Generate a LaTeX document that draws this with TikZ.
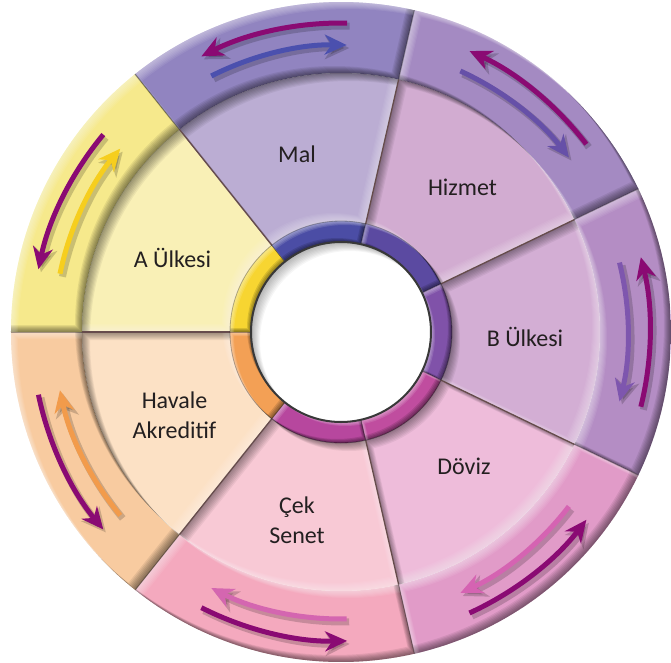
\documentclass[tikz,border=0pt]{standalone}
\usepackage{fontspec}
\setmainfont{Carlito}
\usetikzlibrary{arrows.meta}
\definecolor{txt}{HTML}{231F20}
\definecolor{arrp}{HTML}{8A0A73}
\definecolor{oA}{HTML}{F6E98C}\definecolor{iA}{HTML}{F9F0B6}\definecolor{rA}{HTML}{F7D531}\definecolor{aA}{HTML}{F6CE1E}
\definecolor{oM}{HTML}{9184C0}\definecolor{iM}{HTML}{BBADD3}\definecolor{rM}{HTML}{4B4DA5}\definecolor{aM}{HTML}{4B50AE}
\definecolor{oH}{HTML}{A48AC2}\definecolor{iH}{HTML}{D2ACD1}\definecolor{rH}{HTML}{5B4AA1}\definecolor{aH}{HTML}{6650A8}
\definecolor{oB}{HTML}{B48DC4}\definecolor{iB}{HTML}{D3AED4}\definecolor{rB}{HTML}{8052A9}\definecolor{aB}{HTML}{7E56AE}
\definecolor{oD}{HTML}{E19BC8}\definecolor{iD}{HTML}{EEBCDA}\definecolor{rD}{HTML}{C04D9F}\definecolor{aD}{HTML}{D563B2}
\definecolor{oC}{HTML}{F4A9BE}\definecolor{iC}{HTML}{F8C9D5}\definecolor{rC}{HTML}{B7479E}\definecolor{aC}{HTML}{D466B0}
\definecolor{oV}{HTML}{F8CBA0}\definecolor{iV}{HTML}{FCE1C5}\definecolor{rV}{HTML}{F3A055}\definecolor{aV}{HTML}{F29B4B}
\def\sectp#1#2#3#4{(#1:#3) arc[start angle=#1,end angle=#2,radius=#3] -- (#2:#4) arc[start angle=#2,end angle=#1,radius=#4] -- cycle}
% #1 #2 angles, #3 #4 radii, #5 steps, #6 opacity, #7 colour of lower-right crescent, #8 colour of upper-left crescent
\newcommand\bevelsect[8]{%
  \begin{scope}
    \clip \sectp{#1}{#2}{#3}{#4};
    \foreach \dd in {1,...,#5}{
      \fill[#7,fill opacity=#6,even odd rule] (-400,-400) rectangle (400,400) [shift={(-\dd,\dd)}] \sectp{#1}{#2}{#3}{#4};
      \fill[#8,fill opacity=#6,even odd rule] (-400,-400) rectangle (400,400) [shift={(\dd,-\dd)}] \sectp{#1}{#2}{#3}{#4};
    }
  \end{scope}}
\begin{document}
\begin{tikzpicture}[x=1pt,y=1pt,
  lbl/.style={font=\fontsize{24}{30}\selectfont, text=txt, align=center, inner sep=0pt},
  flowarrow/.style={line width=5pt, -{Stealth[length=22pt,width=20pt,inset=7pt]}},
  arrshadow/.style={black, opacity=0.18, line width=7pt, -{Stealth[length=24pt,width=23pt,inset=7pt]}},
  divider/.style={draw=black!75!red!40!gray, line width=1.3pt},
  ringdivider/.style={draw=black, draw opacity=0.35, line width=0.9pt}
]
\useasboundingbox (-341,-330) rectangle (330,332);
\def\Rout{330}\def\Rmid{259}\def\Rring{111}\def\Rhole{90}
\def\seglist{A/180,M/128.5714,H/77.1429,B/25.7143,D/-25.7143,C/-77.1429,V/-128.5714}
% fills and bevels
\foreach \nm/\sa in \seglist {
  \pgfmathsetmacro\ea{\sa-51.4286}
  \fill[o\nm] \sectp{\sa}{\ea}{\Rout}{\Rmid};
  \fill[i\nm] \sectp{\sa}{\ea}{\Rmid}{\Rring};
  \fill[r\nm] \sectp{\sa}{\ea}{\Rring}{\Rhole};
  \bevelsect{\sa}{\ea}{\Rout}{\Rmid}{7}{0.075}{black}{white}
  \bevelsect{\sa}{\ea}{\Rmid}{\Rring}{8}{0.055}{white}{black}
  \bevelsect{\sa}{\ea}{\Rring}{\Rhole}{4}{0.12}{black}{white}
}
% dividers
\foreach \nm/\sa in \seglist {
  \draw[divider] (\sa:\Rring) -- (\sa:\Rmid);
  \draw[ringdivider] (\sa:\Rmid) -- (\sa:\Rout);
  \draw[ringdivider] (\sa:\Rhole) -- (\sa:\Rring);
}
\draw[black, draw opacity=0.3, line width=0.8pt] (0,0) circle[radius=\Rring];
% central hole
\fill[white] (0,0) circle[radius=\Rhole];
\begin{scope}
  \clip (0,0) circle[radius=\Rhole];
  \foreach \dd in {1,...,9}
    \fill[black,fill opacity=0.035,even odd rule] (-400,-400) rectangle (400,400) (\dd,-\dd) circle[radius=\Rhole];
\end{scope}
\draw[black!78, line width=2pt] (0,0) circle[radius=\Rhole];
% arrows
\foreach \nm/\sa in \seglist {
  \pgfmathsetmacro\pa{\sa-25.7143-14}
  \pgfmathsetmacro\pb{\sa-25.7143+14}
  \begin{scope}[shift={(2.5,-3)}]
    \draw[arrshadow] (\pa:309) arc[start angle=\pa,end angle=\pb,radius=309];
    \draw[arrshadow] (\pb:287) arc[start angle=\pb,end angle=\pa,radius=287];
  \end{scope}
  \draw[arrp, flowarrow] (\pa:309) arc[start angle=\pa,end angle=\pb,radius=309];
  \draw[a\nm, flowarrow] (\pb:287) arc[start angle=\pb,end angle=\pa,radius=287];
}
% labels
\node[lbl, anchor=base] (mal) at (-44,170) {Mal};
\node[lbl, anchor=base] (aulkesi) at (-168.5,65) {A Ülkesi};
\node[lbl, anchor=base] (hizmet) at (121.5,137) {Hizmet};
\node[lbl, anchor=base] (bulkesi) at (184,-14) {B Ülkesi};
\node[lbl, anchor=base] (doviz) at (123,-142) {Döviz};
\node[lbl] (cek) at (-44,-188) {Çek\\Senet};
\node[lbl] (havale) at (-166.5,-83) {Havale\\Akreditif};
\end{tikzpicture}
\end{document}
